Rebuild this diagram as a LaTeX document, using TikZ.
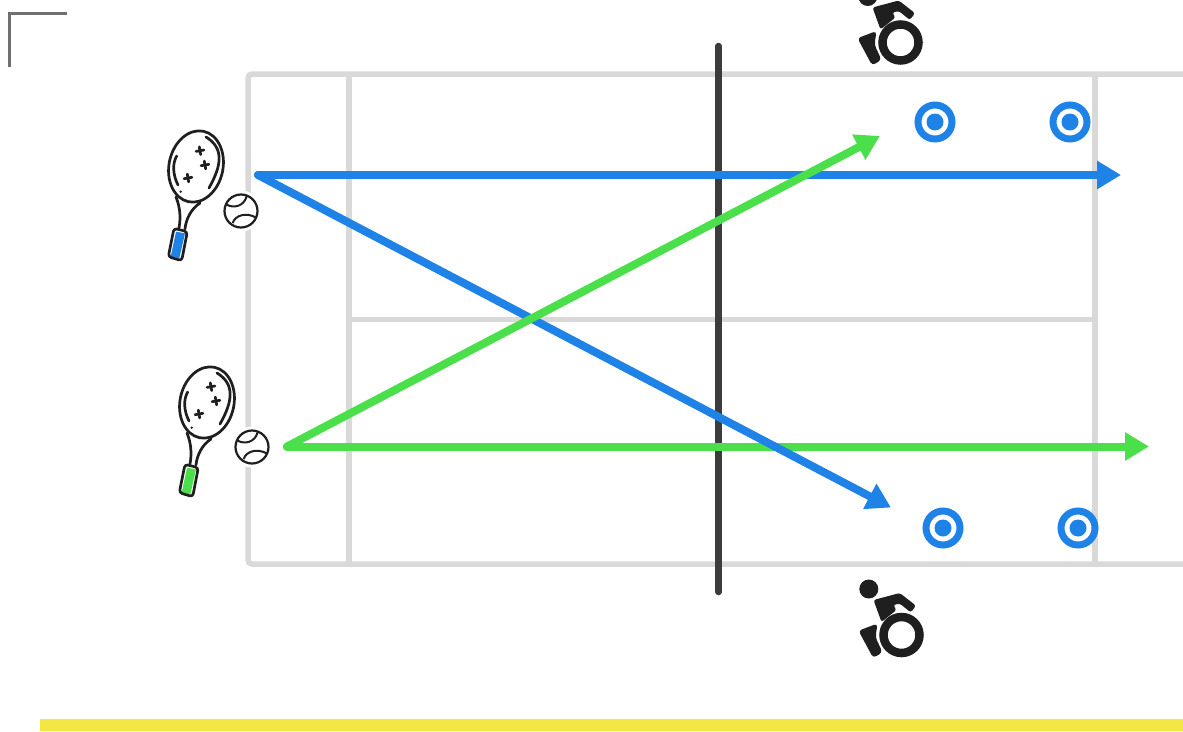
\documentclass[tikz,border=0pt]{standalone}
\usetikzlibrary{arrows.meta}
\definecolor{courtgrey}{HTML}{D9D9D9}
\definecolor{netdark}{HTML}{3C3C3C}
\definecolor{inkdark}{HTML}{1F1F1F}
\definecolor{shotblue}{HTML}{1E82E6}
\definecolor{shotgreen}{HTML}{4CDF4C}
\definecolor{baryellow}{HTML}{F4E643}
\definecolor{cornergrey}{HTML}{707070}
\tikzset{
  % Banen: ydre kant og linjer
  court/.style={draw=courtgrey, line width=5.5pt, rounded corners=4pt},
  courtline/.style={draw=courtgrey, line width=#1},
  net/.style={draw=netdark, line width=6.5pt, line cap=round},
  shot/.style={line width=8pt, line cap=round,
    -{Triangle[length=24pt,width=27pt]}},
  % Ketsjer og bold
  ink/.style={draw=inkdark, line width=2.7pt, line cap=round, line join=round},
  ball/.style={circle, draw=inkdark, fill=white, line width=2.2pt,
    minimum size=33pt, inner sep=0pt},
  halo/.style={circle, fill=white, minimum size=41pt, inner sep=0pt},
  % Maal paa banen
  target/.style={circle, draw=shotblue, fill=white, line width=7pt,
    minimum size=34pt, inner sep=0pt},
  bullseye/.style={circle, fill=shotblue, minimum size=17pt, inner sep=0pt},
  % Koerestol
  wheel/.style={circle, draw=inkdark, fill=white, line width=8.5pt,
    minimum size=36pt, inner sep=0pt},
  rider/.style={fill=inkdark, rounded corners=2.5pt},
}
% Ketsjer med bold: koordinaterne regnes fra boldens midte
\newcommand{\racket}[3]{%
  \node[halo] (#1halo) at (#2) {};
  \node[ball] (#1) at (#2) {};
  \begin{scope}[shift={(#1.center)}]
    \draw[inkdark, line width=2pt] (-15,-6.7) .. controls (-7,-2) and (3,-5) .. (5.7,-14.7);
    \draw[inkdark, line width=2pt] (-8.3,12) .. controls (-6,4) and (6,1) .. (15,6.7);
    \draw[ink, rotate around={-12:(-45,-44.5)}] (-45,-44.5) ellipse [x radius=27, y radius=36];
    \draw[ink] (-35,-74) .. controls (-17,-63) and (-19,-46) .. (-32,-23);
    \draw[ink] (-64.3,-55) .. controls (-69,-47) and (-68,-36) .. (-63,-26);
    \fill[inkdark] (-60.3,-19.3) circle (1.3);
    \foreach \cx/\cy in {-41/-60.3,-36/-46,-53/-33}
      \draw[ink, shift={(\cx,\cy)}, rotate=10] (-4,0) -- (4,0) (0,-4) -- (0,4);
    \draw[ink] (-65,-14) .. controls (-61,-4) and (-60,6) .. (-62,17);
    \draw[ink] (-41,-8) .. controls (-50,-2) and (-55,8) .. (-56,18);
    \fill[#3] (-65,20.7) -- (-56,22.3) -- (-61.7,47.3) -- (-70.3,45.7) -- cycle;
    \draw[ink, rounded corners=3pt] (-67,17.3) -- (-53.7,20.7) -- (-59.3,49.7) -- (-72.7,45.7) -- cycle;
  \end{scope}}
% Koerestol: koordinaterne regnes fra hjulets midte
\newcommand{\chair}[2]{%
  \node[wheel] (#1) at (#2) {};
  \begin{scope}[shift={(#1.center)}]
    \fill[inkdark] (-32.7,-46) circle (9.5);
    \fill[rider] (-28,-35) -- (-1.7,-42) -- (14.5,-29.3) -- (9.3,-22.5) -- (-1.7,-31.5)
      -- (-8.3,-30) -- (-5,-25) -- (-20,-13) -- cycle;
    \fill[rider, rounded corners=3.5pt] (-43,-4.3) -- (-24,-11.5) -- (-26,2.3) -- (-19,17.3) -- (-28.3,23) -- cycle;
  \end{scope}}
\newcommand{\goal}[2]{%
  \node[target] (#1) at (#2) {};
  \node[bullseye] (#1dot) at (#1.center) {};}

\begin{document}
\begin{tikzpicture}[x=1pt,y=-1pt]
\useasboundingbox (0,0) rectangle (1183,731);
\clip (0,0) rectangle (1183,731);

% ----- hjoerne og gul bjaelke -----
\coordinate (cornerbottom) at (9,67);
\coordinate (cornerknee) at (9,13);
\coordinate (cornerright) at (67,13);
\draw[draw=cornergrey, line width=3pt] (cornerbottom) -- (cornerknee) -- (cornerright);
\node[fill=baryellow, minimum width=1143pt, minimum height=12pt, inner sep=0pt, anchor=north west] (bar) at (40,719) {};

% ----- banen -----
\draw[court] (1200,74) -- (248,74) -- (248,564) -- (1200,564);
\coordinate (alleyleft) at (349,74);
\coordinate (alleyleftend) at (349,564);
\coordinate (alleyright) at (1095,74);
\coordinate (alleyrightend) at (1095,564);
\coordinate (centerleft) at (349,319.5);
\coordinate (centerright) at (1095,319.5);
\draw[courtline=6.5pt] (alleyleft) -- (alleyleftend);
\draw[courtline=6.5pt] (alleyright) -- (alleyrightend);
\draw[courtline=5pt] (centerleft) -- (centerright);

% ----- nettet -----
\coordinate (nettop) at (718.5,46);
\coordinate (netbottom) at (718.5,592);
\draw[net] (nettop) -- (netbottom);

% ----- slag -----
\coordinate (bluestart) at (258,175);
\coordinate (blueline) at (1121,175);
\coordinate (bluecross) at (891,507.5);
\coordinate (greenstart) at (287,446.5);
\coordinate (greenline) at (1149,446.5);
\coordinate (greencross) at (880,136);
\draw[shot, shotgreen] (greenstart) -- (greenline);
\draw[shot, shotblue] (bluestart) -- (blueline);
\draw[shot, shotblue] (bluestart) -- (bluecross);
\draw[shot, shotgreen] (greenstart) -- (greencross);

% ----- spillere og maal -----
\racket{ballblue}{241,211}{shotblue}
\racket{ballgreen}{252,447}{shotgreen}
\chair{chairtop}{900.5,42.5}
\chair{chairbottom}{901.5,635}
\goal{targeta}{935,122}
\goal{targetb}{1070,122}
\goal{targetc}{943,528}
\goal{targetd}{1078,528}

\end{tikzpicture}
\end{document}
